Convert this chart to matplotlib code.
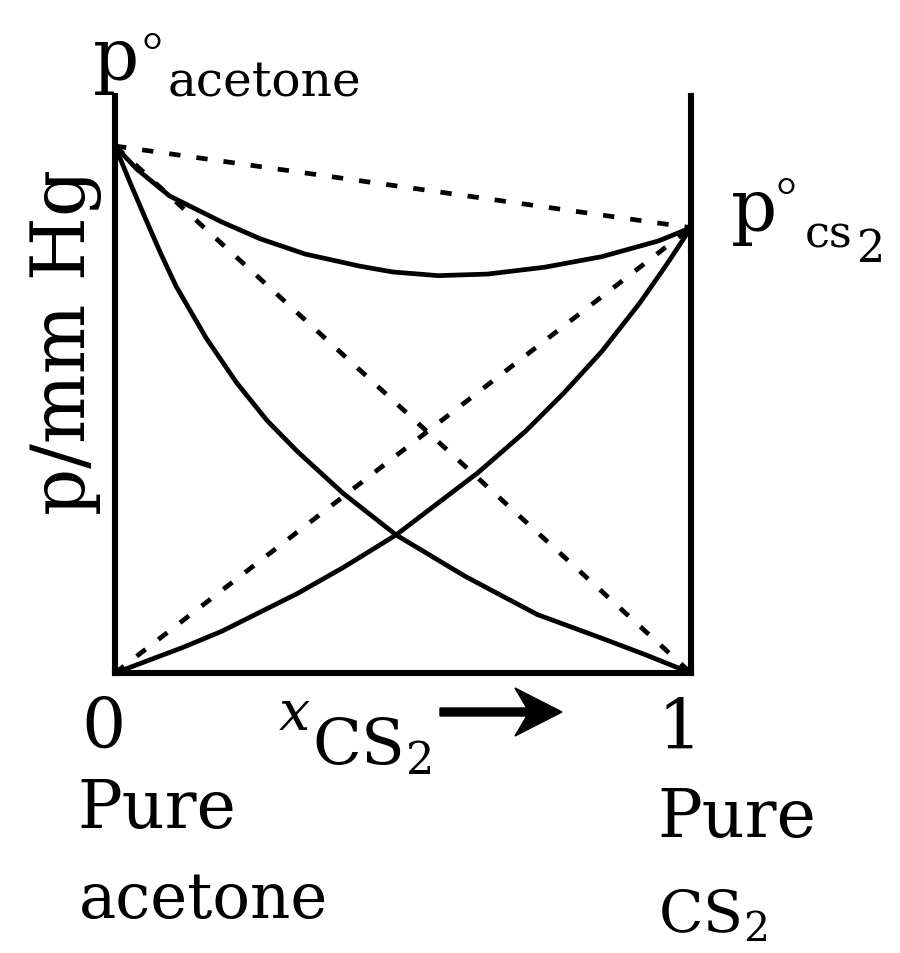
import matplotlib.pyplot as plt
from matplotlib.patches import FancyArrow

plt.rcParams['font.family'] = 'DejaVu Serif'
plt.rcParams['mathtext.fontset'] = 'dejavuserif'

# vapour pressures of the pure liquids (arbitrary units)
P_ACETONE = 100
P_CS2 = 84.5

# total vapour pressure curve
x_total = [0, 0.038, 0.095, 0.185, 0.252, 0.330, 0.425, 0.482, 0.561, 0.647, 0.746, 0.845, 0.944, 1.0]
p_total = [100, 95.6, 90.5, 85.6, 82.4, 79.5, 77.2, 76.1, 75.4, 75.7, 77.0, 79.0, 82.0, 84.5]

# partial pressure of acetone
x_acetone = [0, 0.026, 0.053, 0.079, 0.106, 0.158, 0.211, 0.264, 0.317, 0.396, 0.488, 0.607, 0.733, 0.845, 0.92, 1.0]
p_acetone = [100, 93.1, 86.2, 79.7, 73.4, 63.6, 55.1, 47.9, 42.0, 34.1, 26.2, 18.4, 11.1, 6.6, 3.5, 0]

# partial pressure of CS2
x_cs2 = [0, 0.119, 0.185, 0.317, 0.396, 0.488, 0.630, 0.713, 0.779, 0.845, 0.911, 0.957, 1.0]
p_cs2 = [0, 4.9, 7.9, 15.1, 20.0, 26.2, 38.0, 45.9, 53.1, 61.0, 70.2, 77.4, 84.5]

W, H = 900, 954
fig = plt.figure(figsize=(9, 9.54), dpi=100)
ax = fig.add_axes([115 / W, 1 - 674 / H, 576 / W, 577 / H])
ax.set_xlim(0, 1)
ax.set_ylim(0, 577 / 5.27)

dash = (0, (2.4, 3.4))
solid_kw = dict(color='black', lw=3.4, clip_on=False, solid_joinstyle='round', solid_capstyle='round')
dash_kw = dict(color='black', lw=3.4, clip_on=False, linestyle=dash)

# ideal (Raoult) lines
ax.plot([0, 1], [P_ACETONE, P_CS2], **dash_kw)
ax.plot([0, 1], [P_ACETONE, 0], **dash_kw)
ax.plot([0, 1], [0, P_CS2], **dash_kw)

# real curves
ax.plot(x_total, p_total, **solid_kw)
ax.plot(x_acetone, p_acetone, **solid_kw)
ax.plot(x_cs2, p_cs2, **solid_kw)

ax.spines['top'].set_visible(False)
for s in ['left', 'right', 'bottom']:
    ax.spines[s].set_linewidth(4.4)
ax.set_xticks([])
ax.set_yticks([])


def txt(px, py, s, size, **kw):
    fig.text(px / W, 1 - py / H, s, fontsize=size, va='baseline', ha='left', **kw)


# pure component pressures
txt(93, 80, 'p', 52)
txt(141, 68, '°', 38, family='Liberation Serif')
txt(168, 97, 'acetone', 35)
txt(731, 231, 'p', 52)
txt(776, 213, '°', 38, family='Liberation Serif')
txt(805, 248, 'cs', 32)
txt(857, 262, '2', 32)

# y label
fig.text(66 / W, 1 - 342 / H, 'p/mm Hg', fontsize=53, rotation=90, ha='center', va='center')

# x axis labels
txt(81, 748, '0', 50)
txt(658, 749, '1', 50)
txt(279, 730, 'x', 40, style='italic')
txt(312, 765, r'CS$_2$', 46)
txt(77, 828, 'Pure', 48)
txt(79, 918, 'acetone', 45)
txt(657, 837, 'Pure', 48)
txt(658, 932, r'CS$_2$', 42)

fig.patches.append(FancyArrow(4.40, (H - 713) / 100, 1.22, 0, width=0.08, head_width=0.48,
                              head_length=0.47, overhang=0.25, length_includes_head=True,
                              color='black', transform=fig.dpi_scale_trans))

fig.savefig('out.png', dpi=100)
